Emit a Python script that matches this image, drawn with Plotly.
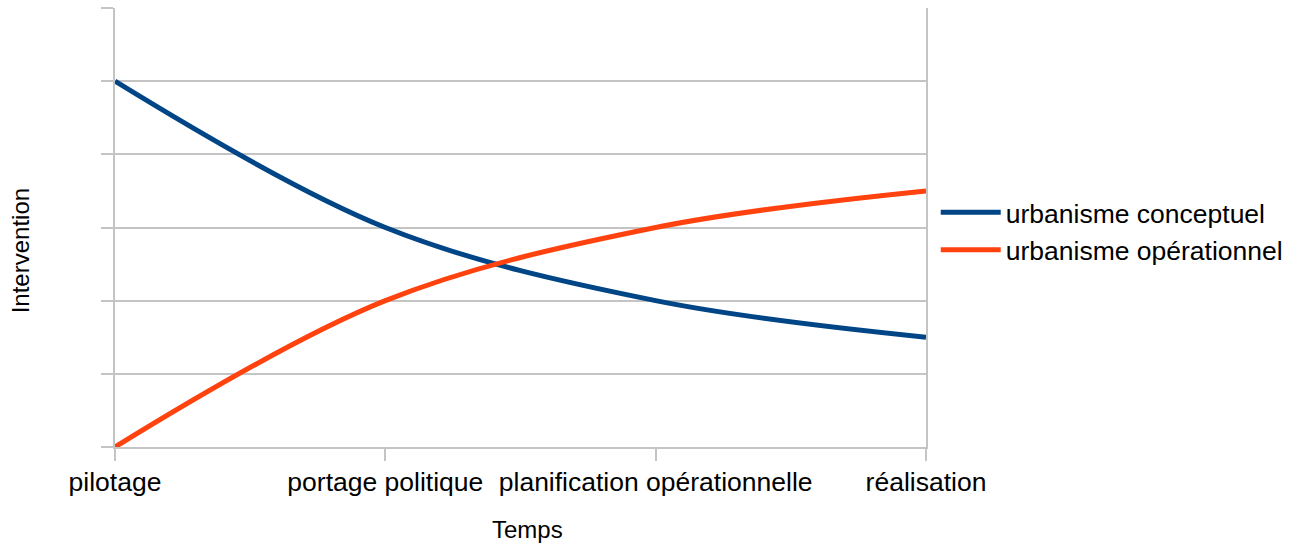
import plotly.graph_objects as go

# Phases of the project along the time axis
phases = ["pilotage", "portage politique", "planification opérationnelle", "réalisation"]
positions = [0, 1, 2, 3]

# Level of intervention per phase
conceptuel = [5, 3, 2, 1.5]
operationnel = [0, 2, 3, 3.5]

grid = "#c4c4c4"
font = "Liberation Sans, Arial, sans-serif"

fig = go.Figure()
fig.add_trace(go.Scatter(
    x=positions, y=conceptuel, mode="lines", name="urbanisme conceptuel",
    line=dict(color="#004586", width=5, shape="spline", smoothing=1),
))
fig.add_trace(go.Scatter(
    x=positions, y=operationnel, mode="lines", name="urbanisme opérationnel",
    line=dict(color="#ff420e", width=5, shape="spline", smoothing=1),
))

# Axis titles placed as free text
fig.add_annotation(text="Temps", xref="paper", yref="paper", x=0.509, y=-0.188,
                   xanchor="center", yanchor="middle", showarrow=False,
                   font=dict(size=24))
fig.add_annotation(text="Intervention", xref="paper", yref="paper", x=-0.117, y=0.446,
                   xanchor="center", yanchor="middle", showarrow=False, textangle=-90,
                   font=dict(size=24))

fig.update_layout(
    width=1303, height=544,
    margin=dict(l=115, r=377, t=8, b=97),
    paper_bgcolor="white", plot_bgcolor="white",
    font=dict(family=font, size=26.5, color="black"),
    showlegend=True,
    legend=dict(x=1.012, y=0.492, xanchor="left", yanchor="middle",
                font=dict(size=26.5), itemwidth=60, tracegroupgap=0),
    xaxis=dict(
        range=[0, 3], tickvals=positions, ticktext=phases,
        showgrid=False, zeroline=False,
        showline=True, linecolor=grid, linewidth=1.5,
        ticks="outside", ticklen=12, tickcolor=grid, tickwidth=1.5,
        tickfont=dict(size=26.5), ticklabelstandoff=-2,
        automargin=False,
    ),
    yaxis=dict(
        range=[0, 6], dtick=1, showticklabels=False,
        showgrid=True, gridcolor=grid, gridwidth=1.5, zeroline=False,
        showline=True, linecolor=grid, linewidth=1.5, mirror=True,
        ticks="outside", ticklen=12, tickcolor=grid, tickwidth=1.5,
        automargin=False,
    ),
)

fig.write_html("out.html")
